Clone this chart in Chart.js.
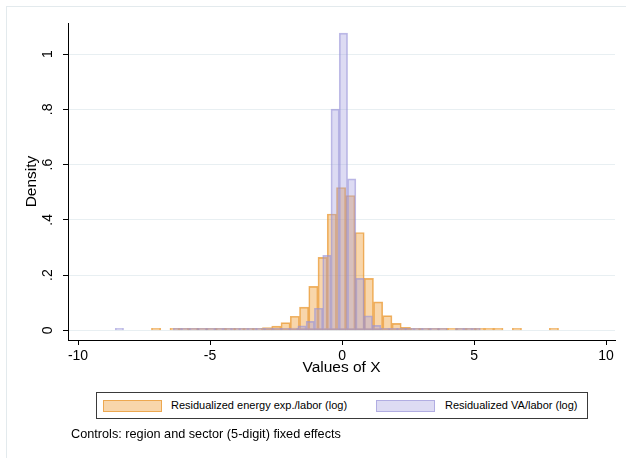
<!DOCTYPE html>
<html>
<head>
<meta charset="utf-8">
<script src="https://cdn.jsdelivr.net/npm/chart.js@4.4.1/dist/chart.umd.min.js"></script>
<style>
  html, body { margin: 0; padding: 0; background: #ffffff; }
  #wrap { position: relative; width: 626px; height: 458px; overflow: hidden;
          font-family: "Liberation Sans", Arial, Helvetica, sans-serif; color: #000; }
  #frame { position: absolute; left: 6px; top: 6px; width: 622px; height: 456px;
           border: 1px solid #e3eaed; box-sizing: border-box; }
  #chart { position: absolute; left: 0; top: 0; }
  #legend { position: absolute; left: 96px; top: 392px; width: 492px; height: 27px;
            border: 1px solid #3a3a3a; box-sizing: border-box; background: #fff; }
  .swatch { position: absolute; top: 7px; width: 59px; height: 12px; box-sizing: border-box; }
  .ltext { position: absolute; top: 5px; font-size: 11px; line-height: 14px; white-space: nowrap; }
  #note { position: absolute; left: 71px; top: 427px; font-size: 12.7px; line-height: 15px; white-space: nowrap; }
</style>
</head>
<body>
<div id="wrap">
  <div id="frame"></div>
  <canvas id="chart" width="626" height="458"></canvas>
  <div id="legend">
    <div class="swatch" id="sw0" style="left:6px;"></div>
    <div class="ltext" id="lt0" style="left:74px;"></div>
    <div class="swatch" id="sw1" style="left:279px;"></div>
    <div class="ltext" id="lt1" style="left:348px;"></div>
  </div>
  <div id="note"></div>
</div>
<script>
// Histogram of residualized energy expenditure per worker (44 bins)
const energyBinStart = -7.22;
const energyBinWidth = 0.3505;
const energyDensity = [
  0.002, null, 0.001, 0.001, 0.001, 0.001, 0.001, 0.002, 0.002, 0.003,
  0.004, 0.006, 0.010, 0.015, 0.028, 0.051, 0.084, 0.159, 0.264, 0.421,
  0.517, 0.488, 0.354, 0.188, 0.103, 0.053, 0.025, 0.011, 0.005, 0.003,
  0.002, 0.002, 0.001, 0.001, 0.001, 0.001, 0.001, 0.001, null, 0.001,
  null, null, null, 0.001
];

// Histogram of residualized value added per worker (44 bins)
const vaBinStart = -8.59;
const vaBinWidth = 0.3143;
const vaDensity = [
  0.002, null, null, null, null, null, null, 0.001, 0.001, 0.001,
  0.001, 0.001, 0.001, 0.001, 0.001, 0.001, 0.001, 0.002, 0.002, 0.003,
  0.004, 0.008, 0.016, 0.0325, 0.080, 0.271, 0.801, 1.076, 0.548, 0.188,
  0.052, 0.018, 0.007, 0.004, 0.002, 0.002, 0.001, 0.001, 0.001, 0.001,
  null, 0.001, 0.001, 0.001
];

const seriesNames = ["Residualized energy exp./labor (log)", "Residualized VA/labor (log)"];
const xTicks = [-10, -5, 0, 5, 10];
const xTickLabels = ["-10", "-5", "0", "5", "10"];
const yTicks = [0, 0.2, 0.4, 0.6, 0.8, 1];
const yTickLabels = ["0", ".2", ".4", ".6", ".8", "1"];
const xTitle = "Values of X";
const yTitle = "Density";
const noteText = "Controls: region and sector (5-digit) fixed effects";

const energyFill = "rgba(236,146,34,0.38)";
const energyLine = "rgba(233,150,45,0.72)";
const vaFill = "rgba(160,156,222,0.36)";
const vaLine = "rgba(150,146,215,0.62)";

function binPoints(start, width, values) {
  const pts = [];
  values.forEach((v, k) => {
    if (v !== null) pts.push({ x: start + (k + 0.5) * width, y: v });
  });
  return pts;
}

const font = "'Liberation Sans', Arial, Helvetica, sans-serif";
const xMin = -10.38, xMax = 10.34;

const barStyle = {
  borderWidth: 1,
  borderSkipped: false,
  minBarLength: 2,
  barPercentage: 1,
  categoryPercentage: 1,
  grouped: false
};

new Chart(document.getElementById("chart"), {
  type: "bar",
  data: {
    datasets: [
      Object.assign({
        label: seriesNames[0],
        data: binPoints(energyBinStart, energyBinWidth, energyDensity),
        xAxisID: "x",
        backgroundColor: energyFill,
        borderColor: energyLine,
        order: 1
      }, barStyle),
      Object.assign({
        label: seriesNames[1],
        data: binPoints(vaBinStart, vaBinWidth, vaDensity),
        xAxisID: "x2",
        backgroundColor: vaFill,
        borderColor: vaLine,
        order: 0
      }, barStyle)
    ]
  },
  options: {
    responsive: false,
    animation: false,
    events: [],
    layout: { padding: { left: 0, right: 11, top: 23, bottom: 68 } },
    plugins: { legend: { display: false }, tooltip: { enabled: false } },
    scales: {
      x: {
        type: "linear",
        position: "bottom",
        min: xMin, max: xMax,
        offset: false,
        afterBuildTicks: s => { s.ticks = xTicks.map(v => ({ value: v })); },
        afterFit: s => { s.height = 50; },
        ticks: {
          autoSkip: false, maxRotation: 0, minRotation: 0, padding: 3,
          color: "#000", font: { family: font, size: 14 },
          callback: (v) => xTickLabels[xTicks.indexOf(v)]
        },
        grid: { drawOnChartArea: false, offset: false, drawTicks: true, tickLength: 5, tickColor: "#000", tickWidth: 1 },
        border: { display: true, color: "#000", width: 1 },
        title: { display: true, text: xTitle, color: "#000", font: { family: font, size: 15.5 }, padding: { top: 0, bottom: 13 } }
      },
      x2: {
        type: "linear",
        display: false,
        min: xMin, max: xMax,
        offset: false,
        grid: { offset: false }
      },
      y: {
        type: "linear",
        position: "left",
        min: -0.0351, max: 1.1125,
        afterBuildTicks: s => { s.ticks = yTicks.map(v => ({ value: v })); },
        afterFit: s => { s.width = 68; },
        ticks: {
          autoSkip: false, minRotation: 90, maxRotation: 90, padding: 9, crossAlign: "center",
          color: "#000", font: { family: font, size: 14 },
          callback: (v) => yTickLabels[yTicks.indexOf(v)]
        },
        grid: { color: "#e8eff2", lineWidth: 1, drawTicks: true, tickLength: 5, tickColor: "#000", tickWidth: 1 },
        border: { display: true, color: "#000", width: 1 },
        title: { display: true, text: yTitle, color: "#000", font: { family: font, size: 15.5 }, padding: { top: 22, bottom: 0 } }
      }
    }
  }
});

// Legend and note
document.getElementById("sw0").style.cssText += `background:${energyFill};border:1px solid ${energyLine};`;
document.getElementById("sw1").style.cssText += `background:${vaFill};border:1px solid ${vaLine};`;
document.getElementById("lt0").textContent = seriesNames[0];
document.getElementById("lt1").textContent = seriesNames[1];
document.getElementById("note").textContent = noteText;
</script>
</body>
</html>
